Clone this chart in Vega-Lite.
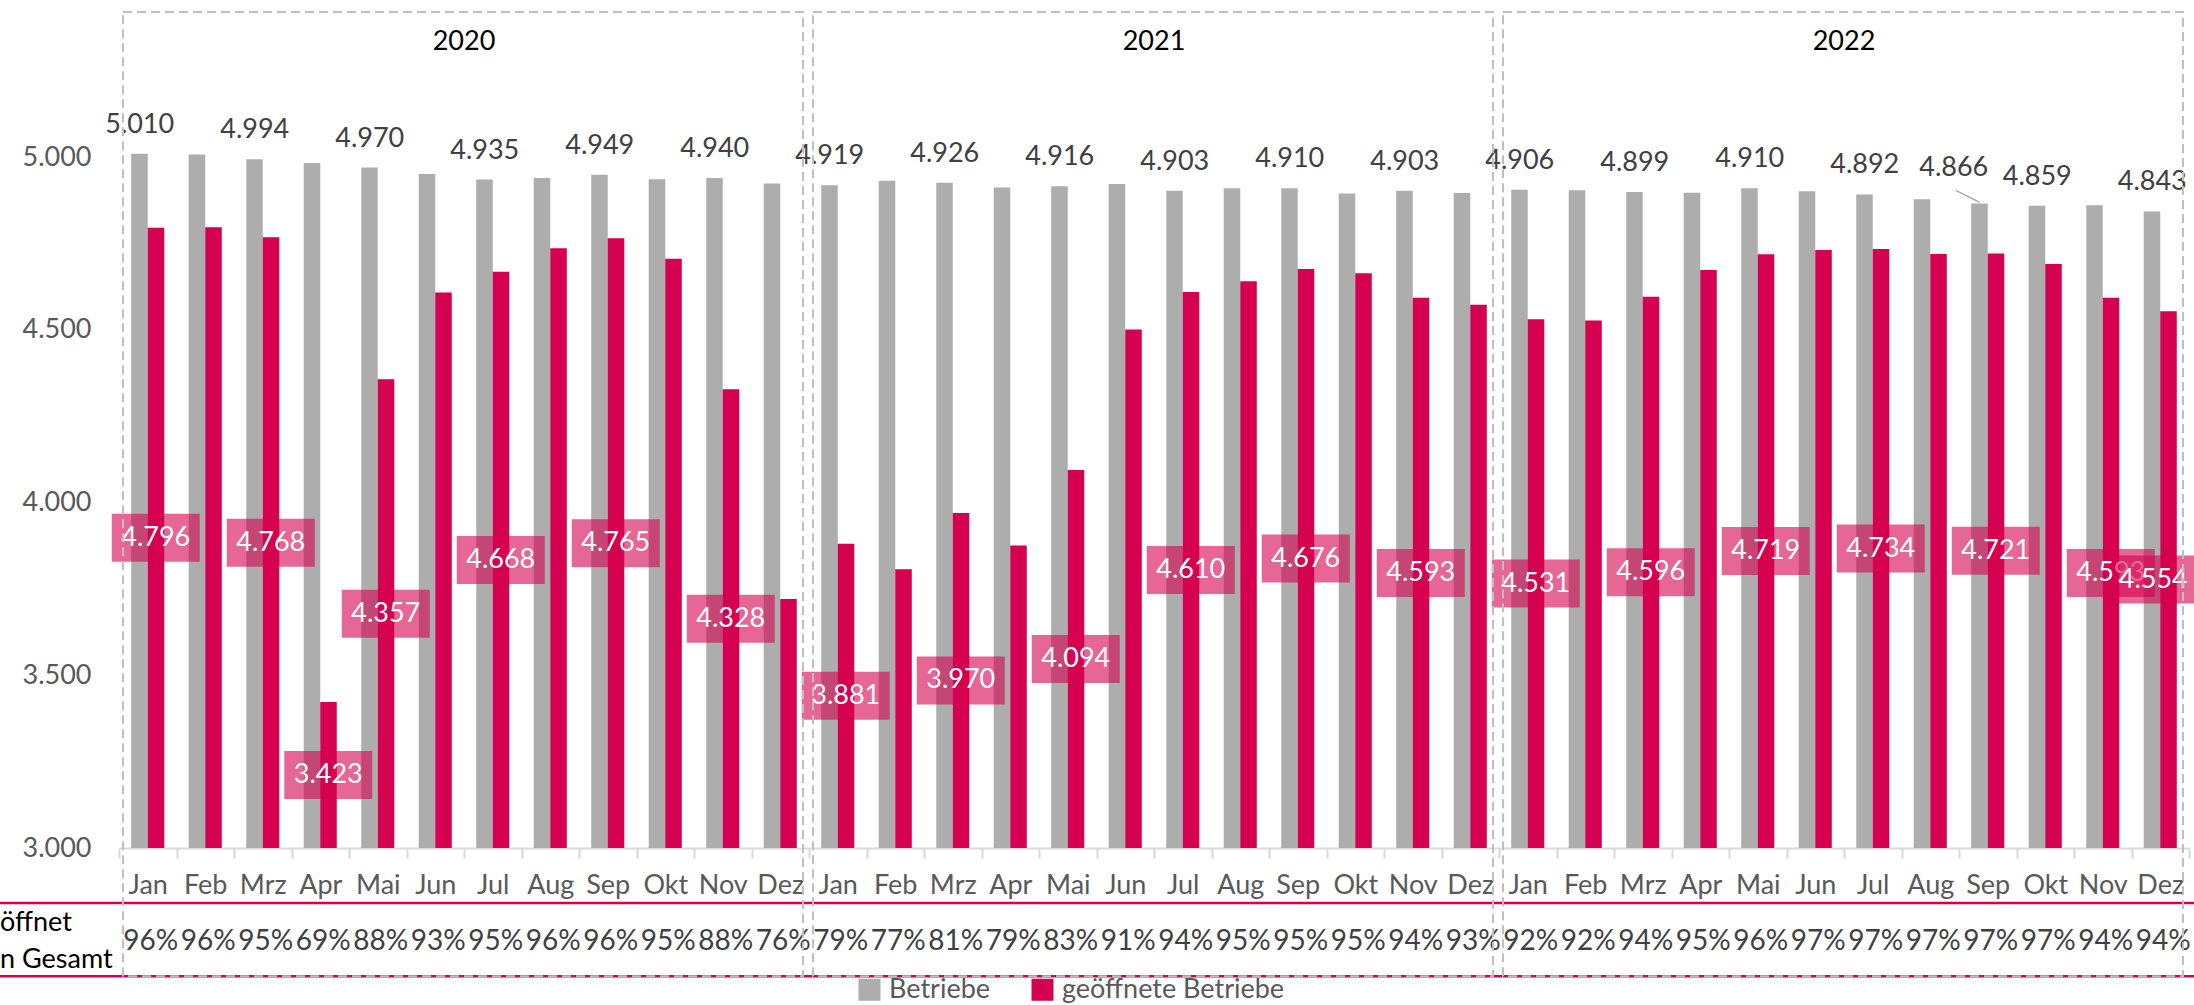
{
  "$schema": "https://vega.github.io/schema/vega-lite/v6.json",
  "autosize": {"type": "none"},
  "width": 2070,
  "height": 829,
  "padding": {"left": 119, "top": 19, "right": 5, "bottom": 157},
  "background": "white",
  "config": {
    "font": "Lato",
    "view": {"stroke": null},
    "locale": {"number": {"decimal": ",", "thousands": ".", "grouping": [3], "currency": ["", " €"]}}
  },
  "datasets": {
    "monate": [
      {"m": "2020-01", "Betriebe": 5010, "geöffnete Betriebe": 4796, "anteil": 0.96, "lb": true, "lg": true},
      {"m": "2020-02", "Betriebe": 5008, "geöffnete Betriebe": 4797, "anteil": 0.96, "lb": false, "lg": false},
      {"m": "2020-03", "Betriebe": 4994, "geöffnete Betriebe": 4768, "anteil": 0.95, "lb": true, "lg": true},
      {"m": "2020-04", "Betriebe": 4983, "geöffnete Betriebe": 3423, "anteil": 0.69, "lb": false, "lg": true},
      {"m": "2020-05", "Betriebe": 4970, "geöffnete Betriebe": 4357, "anteil": 0.88, "lb": true, "lg": true},
      {"m": "2020-06", "Betriebe": 4951, "geöffnete Betriebe": 4608, "anteil": 0.93, "lb": false, "lg": false},
      {"m": "2020-07", "Betriebe": 4935, "geöffnete Betriebe": 4668, "anteil": 0.95, "lb": true, "lg": true},
      {"m": "2020-08", "Betriebe": 4940, "geöffnete Betriebe": 4736, "anteil": 0.96, "lb": false, "lg": false},
      {"m": "2020-09", "Betriebe": 4949, "geöffnete Betriebe": 4765, "anteil": 0.96, "lb": true, "lg": true},
      {"m": "2020-10", "Betriebe": 4936, "geöffnete Betriebe": 4706, "anteil": 0.95, "lb": false, "lg": false},
      {"m": "2020-11", "Betriebe": 4940, "geöffnete Betriebe": 4328, "anteil": 0.88, "lb": true, "lg": true},
      {"m": "2020-12", "Betriebe": 4924, "geöffnete Betriebe": 3721, "anteil": 0.76, "lb": false, "lg": false},
      {"m": "2021-01", "Betriebe": 4919, "geöffnete Betriebe": 3881, "anteil": 0.79, "lb": true, "lg": true},
      {"m": "2021-02", "Betriebe": 4932, "geöffnete Betriebe": 3807, "anteil": 0.77, "lb": false, "lg": false},
      {"m": "2021-03", "Betriebe": 4926, "geöffnete Betriebe": 3970, "anteil": 0.81, "lb": true, "lg": true},
      {"m": "2021-04", "Betriebe": 4912, "geöffnete Betriebe": 3876, "anteil": 0.79, "lb": false, "lg": false},
      {"m": "2021-05", "Betriebe": 4916, "geöffnete Betriebe": 4094, "anteil": 0.83, "lb": true, "lg": true},
      {"m": "2021-06", "Betriebe": 4922, "geöffnete Betriebe": 4501, "anteil": 0.91, "lb": false, "lg": false},
      {"m": "2021-07", "Betriebe": 4903, "geöffnete Betriebe": 4610, "anteil": 0.94, "lb": true, "lg": true},
      {"m": "2021-08", "Betriebe": 4910, "geöffnete Betriebe": 4641, "anteil": 0.95, "lb": false, "lg": false},
      {"m": "2021-09", "Betriebe": 4910, "geöffnete Betriebe": 4676, "anteil": 0.95, "lb": true, "lg": true},
      {"m": "2021-10", "Betriebe": 4895, "geöffnete Betriebe": 4664, "anteil": 0.95, "lb": false, "lg": false},
      {"m": "2021-11", "Betriebe": 4903, "geöffnete Betriebe": 4593, "anteil": 0.94, "lb": true, "lg": true},
      {"m": "2021-12", "Betriebe": 4896, "geöffnete Betriebe": 4573, "anteil": 0.93, "lb": false, "lg": false},
      {"m": "2022-01", "Betriebe": 4906, "geöffnete Betriebe": 4531, "anteil": 0.92, "lb": true, "lg": true},
      {"m": "2022-02", "Betriebe": 4904, "geöffnete Betriebe": 4527, "anteil": 0.92, "lb": false, "lg": false},
      {"m": "2022-03", "Betriebe": 4899, "geöffnete Betriebe": 4596, "anteil": 0.94, "lb": true, "lg": true},
      {"m": "2022-04", "Betriebe": 4897, "geöffnete Betriebe": 4673, "anteil": 0.95, "lb": false, "lg": false},
      {"m": "2022-05", "Betriebe": 4910, "geöffnete Betriebe": 4719, "anteil": 0.96, "lb": true, "lg": true},
      {"m": "2022-06", "Betriebe": 4901, "geöffnete Betriebe": 4731, "anteil": 0.97, "lb": false, "lg": false},
      {"m": "2022-07", "Betriebe": 4892, "geöffnete Betriebe": 4734, "anteil": 0.97, "lb": true, "lg": true},
      {"m": "2022-08", "Betriebe": 4878, "geöffnete Betriebe": 4720, "anteil": 0.97, "lb": false, "lg": false},
      {"m": "2022-09", "Betriebe": 4866, "geöffnete Betriebe": 4721, "anteil": 0.97, "lb": true, "lg": true},
      {"m": "2022-10", "Betriebe": 4859, "geöffnete Betriebe": 4691, "anteil": 0.97, "lb": true, "lg": false},
      {"m": "2022-11", "Betriebe": 4861, "geöffnete Betriebe": 4593, "anteil": 0.94, "lb": false, "lg": true},
      {"m": "2022-12", "Betriebe": 4843, "geöffnete Betriebe": 4554, "anteil": 0.94, "lb": true, "lg": true}
    ],
    "jahre": [{"jahr": "2020"}, {"jahr": "2021"}, {"jahr": "2022"}]
  },
  "layer": [
    {
      "layer": [
        {
          "data": {"name": "monate"},
          "layer": [
            {
              "transform": [{"fold": ["Betriebe", "geöffnete Betriebe"], "as": ["serie", "wert"]}],
              "mark": {"type": "bar"},
              "encoding": {
                "x": {
                  "field": "m", "type": "nominal",
                  "scale": {"paddingInner": 0, "paddingOuter": 0},
                  "axis": {
                    "orient": "bottom",
                    "title": null,
                    "labelExpr": "['Jan','Feb','Mrz','Apr','Mai','Jun','Jul','Aug','Sep','Okt','Nov','Dez'][toNumber(substring(datum.value, 5, 7)) - 1]",
                    "labelAngle": 0, "labelFontSize": 27, "labelColor": "#595959", "labelPadding": 14,
                    "labelOverlap": false, "tickBand": "extent", "tickSize": 10, "tickColor": "#d9d9d9",
                    "tickWidth": 2, "domainColor": "#d9d9d9", "domainWidth": 2, "grid": false
                  }
                },
                "xOffset": {
                  "field": "serie", "type": "nominal", "sort": ["Betriebe", "geöffnete Betriebe"],
                  "scale": {"paddingInner": 0, "paddingOuter": 0.74}
                },
                "y": {
                  "field": "wert", "type": "quantitative",
                  "scale": {"domain": [3000, 5400], "nice": false, "zero": false},
                  "axis": {
                    "orient": "left",
                    "title": null, "values": [3000, 3500, 4000, 4500, 5000], "format": ",d",
                    "domain": false, "ticks": false, "grid": false,
                    "labelFontSize": 27, "labelColor": "#595959", "labelPadding": 28
                  }
                },
                "y2": {"datum": 3000},
                "color": {
                  "field": "serie", "type": "nominal",
                  "scale": {"domain": ["Betriebe", "geöffnete Betriebe"], "range": ["#adadad", "#d5004f"]},
                  "legend": {
                    "orient": "none", "legendX": 737, "legendY": 957, "direction": "horizontal",
                    "title": null, "symbolType": "square", "symbolSize": 484, "symbolStrokeWidth": 0,
                    "labelFontSize": 27, "labelColor": "#595959", "labelLimit": 400,
                    "columnPadding": 38, "labelOffset": 6, "padding": 0
                  }
                }
              }
            },
            {
              "transform": [{"filter": "datum.lb && datum.m != '2022-09'"}],
              "mark": {"type": "text", "dx": -8, "dy": -21, "baseline": "alphabetic", "fontSize": 27, "color": "#404040"},
              "encoding": {
                "x": {"field": "m", "type": "nominal"},
                "y": {"field": "Betriebe", "type": "quantitative", "scale": {"domain": [3000, 5400], "nice": false, "zero": false}},
                "text": {"field": "Betriebe", "type": "quantitative", "format": ",d"}
              }
            },
            {
              "transform": [{"filter": "datum.m == '2022-09'"}],
              "mark": {"type": "text", "dx": -34, "dy": -27, "baseline": "alphabetic", "fontSize": 27, "color": "#404040"},
              "encoding": {
                "x": {"field": "m", "type": "nominal"},
                "y": {"field": "Betriebe", "type": "quantitative", "scale": {"domain": [3000, 5400], "nice": false, "zero": false}},
                "text": {"field": "Betriebe", "type": "quantitative", "format": ",d"}
              }
            },
            {
              "transform": [{"filter": "datum.m == '2022-09'"}],
              "mark": {"type": "rule", "color": "#a6a6a6", "strokeWidth": 1.5, "xOffset": -8, "yOffset": -1, "x2Offset": -32, "y2Offset": -13},
              "encoding": {
                "x": {"field": "m", "type": "nominal"},
                "x2": {"field": "m"},
                "y": {"field": "Betriebe", "type": "quantitative", "scale": {"domain": [3000, 5400], "nice": false, "zero": false}},
                "y2": {"field": "Betriebe"}
              }
            },
            {
              "mark": {"type": "text", "dx": 3, "baseline": "middle", "fontSize": 28, "color": "#404040"},
              "encoding": {
                "x": {"field": "m", "type": "nominal"},
                "y": {"datum": 2728, "scale": {"domain": [3000, 5400], "nice": false, "zero": false}},
                "text": {"field": "anteil", "type": "quantitative", "format": ".0%"}
              }
            },
            {
              "data": {"values": [{}]},
              "mark": {"type": "rule", "color": "#d5004f", "strokeWidth": 2.5, "xOffset": -119, "x2Offset": 5},
              "encoding": {
                "x": {"value": 0},
                "x2": {"value": "width"},
                "y": {"datum": 2841, "scale": {"domain": [3000, 5400], "nice": false, "zero": false}}
              }
            },
            {
              "data": {"values": [{}]},
              "mark": {"type": "rule", "color": "#d5004f", "strokeWidth": 2.5, "xOffset": -119, "x2Offset": 5},
              "encoding": {
                "x": {"value": 0},
                "x2": {"value": "width"},
                "y": {"datum": 2629, "scale": {"domain": [3000, 5400], "nice": false, "zero": false}}
              }
            },
            {
              "data": {"values": [{}]},
              "mark": {"type": "text", "align": "left", "baseline": "middle", "dx": -119, "fontSize": 27, "color": "#000000", "lineHeight": 37},
              "encoding": {
                "x": {"value": 0},
                "y": {"datum": 2783, "scale": {"domain": [3000, 5400], "nice": false, "zero": false}},
                "text": {"value": ["öffnet", "n Gesamt"]}
              }
            }
          ]
        },
        {
          "data": {"name": "monate"},
          "layer": [
            {
              "transform": [{"filter": "datum.lg && datum.m != '2022-12'"}],
              "mark": {"type": "bar", "width": 88, "xOffset": 8, "yOffset": -24, "y2Offset": 24, "fill": "#d5004f", "fillOpacity": 0.6},
              "encoding": {
                "x": {"field": "m", "type": "nominal"},
                "y": {"field": "geöffnete Betriebe", "type": "quantitative", "scale": {"domain": [3000, 7800], "nice": false, "zero": false}, "axis": null},
                "y2": {"field": "geöffnete Betriebe"}
              }
            },
            {
              "transform": [{"filter": "datum.lg && datum.m != '2022-12'"}],
              "mark": {"type": "text", "dx": 8, "baseline": "middle", "fontSize": 27, "color": "#ffffff"},
              "encoding": {
                "x": {"field": "m", "type": "nominal"},
                "y": {"field": "geöffnete Betriebe", "type": "quantitative", "scale": {"domain": [3000, 7800], "nice": false, "zero": false}, "axis": null},
                "text": {"field": "geöffnete Betriebe", "type": "quantitative", "format": ",d"}
              }
            },
            {
              "transform": [{"filter": "datum.m == '2022-12'"}],
              "mark": {"type": "bar", "width": 88, "xOffset": -2, "yOffset": -24, "y2Offset": 24, "fill": "#d5004f", "fillOpacity": 0.6},
              "encoding": {
                "x": {"field": "m", "type": "nominal"},
                "y": {"field": "geöffnete Betriebe", "type": "quantitative", "scale": {"domain": [3000, 7800], "nice": false, "zero": false}, "axis": null},
                "y2": {"field": "geöffnete Betriebe"}
              }
            },
            {
              "transform": [{"filter": "datum.m == '2022-12'"}],
              "mark": {"type": "text", "dx": -7, "baseline": "middle", "fontSize": 27, "color": "#ffffff"},
              "encoding": {
                "x": {"field": "m", "type": "nominal"},
                "y": {"field": "geöffnete Betriebe", "type": "quantitative", "scale": {"domain": [3000, 7800], "nice": false, "zero": false}, "axis": null},
                "text": {"field": "geöffnete Betriebe", "type": "quantitative", "format": ",d"}
              }
            }
          ]
        }
      ],
      "resolve": {"scale": {"y": "independent"}}
    },
    {
      "data": {"name": "jahre"},
      "layer": [
        {
          "mark": {"type": "bar", "width": 680, "xOffset": -1, "fill": "transparent", "stroke": "#bfbfbf", "strokeWidth": 2, "strokeDash": [9, 5]},
          "encoding": {
            "x": {"field": "jahr", "type": "nominal", "scale": {"paddingInner": 0, "paddingOuter": 0}, "axis": null},
            "y": {"datum": 5420, "scale": {"domain": [3000, 5400], "nice": false, "zero": false}, "axis": null},
            "y2": {"datum": 2629}
          }
        },
        {
          "mark": {"type": "text", "baseline": "middle", "fontSize": 27, "color": "#000000"},
          "encoding": {
            "x": {"field": "jahr", "type": "nominal", "axis": null},
            "y": {"datum": 5333, "scale": {"domain": [3000, 5400], "nice": false, "zero": false}, "axis": null},
            "text": {"field": "jahr", "type": "nominal"}
          }
        }
      ]
    }
  ],
  "resolve": {"scale": {"x": "independent", "y": "independent"}}
}
